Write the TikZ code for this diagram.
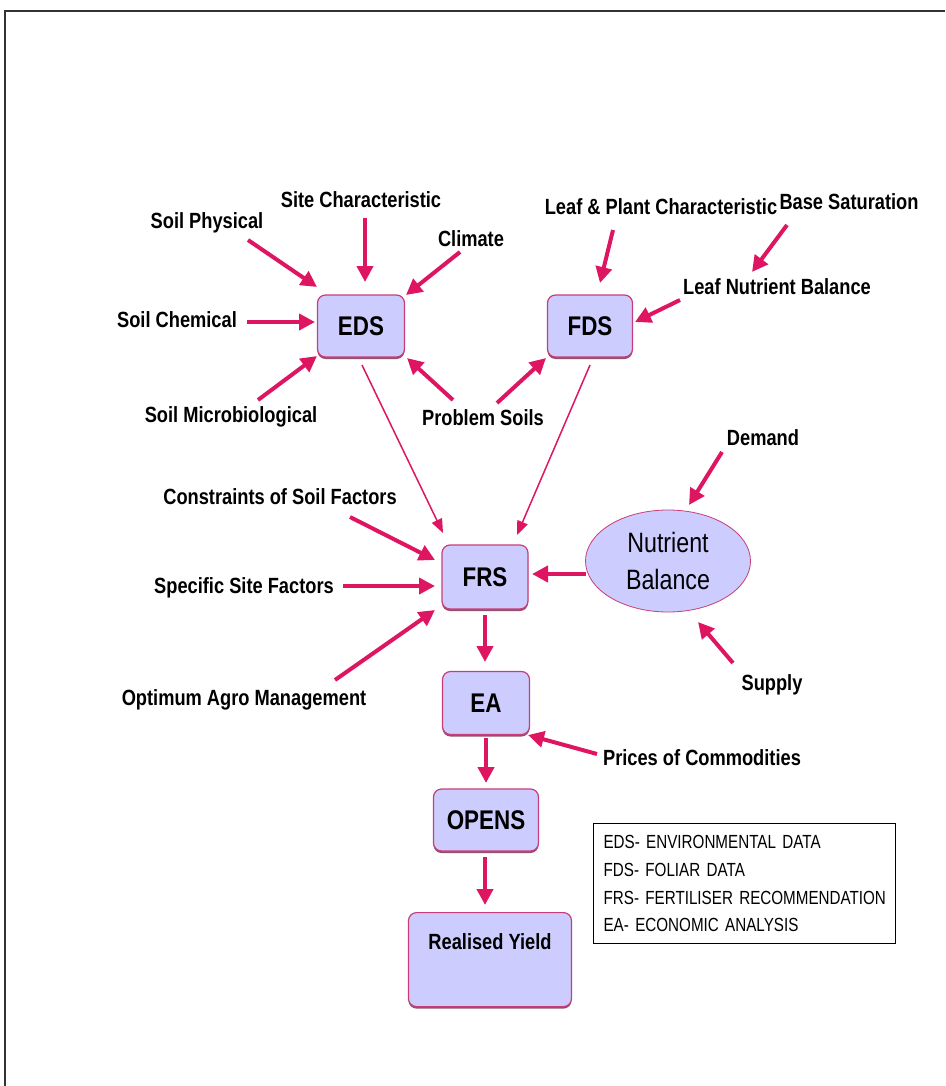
\documentclass[tikz,border=0pt]{standalone}
\usepackage{fontspec}
\usetikzlibrary{arrows.meta,shapes.geometric,calc,shadows}
\newfontfamily\labfont[FakeStretch=0.83]{Liberation Sans}
\newfontfamily\legfont[FakeStretch=0.8]{Liberation Sans}
\definecolor{arrowc}{RGB}{222,22,98}
\definecolor{boxline}{RGB}{200,60,120}
\definecolor{boxfill}{RGB}{204,204,255}
\begin{document}
\begin{tikzpicture}[x=1pt,y=-1pt,
  lab/.style={font=\labfont\bfseries\fontsize{22}{26}\selectfont, inner sep=1pt},
  box/.style={draw=boxline, fill=boxfill, rounded corners=8pt, line width=1.2pt, inner sep=0pt,
    drop shadow={shadow xshift=0pt, shadow yshift=-2pt, fill=boxline!60!black, opacity=0.8},
    font=\labfont\bfseries\fontsize{27}{30}\selectfont},
  arr/.style={draw=arrowc, line width=4pt, -{Triangle[length=16pt,width=16pt]}},
  thinarr/.style={draw=arrowc, line width=1.5pt, -{Triangle[length=14pt,width=11pt]}}]
\useasboundingbox (0,0) rectangle (945,1086);
\draw[line width=1.5pt, black!80] (5,1086) -- (5,11) -- (945,11);

% boxes
\node[box, minimum width=87pt, minimum height=62pt] (eds) at (361,326) {EDS};
\node[box, minimum width=85pt, minimum height=62pt] (fds) at (590,326) {FDS};
\node[box, minimum width=86pt, minimum height=64pt] (frs) at (485,577) {FRS};
\node[box, minimum width=87pt, minimum height=63pt] (ea) at (486,703) {EA};
\node[box, minimum width=105pt, minimum height=62pt] (opens) at (486,820) {OPENS};
\node[box, anchor=north, minimum width=163pt, text height=37pt, text depth=57pt,
  font=\labfont\bfseries\fontsize{22}{26}\selectfont] (ry) at (490,912) {Realised Yield};
\node[ellipse, draw=boxline, fill=boxfill, line width=0.8pt, minimum width=165pt, minimum height=102pt,
  inner sep=0pt, align=center, font=\labfont\fontsize{28}{37}\selectfont] (nb) at (668,561) {Nutrient\\Balance};

% legend
\node[draw=black, line width=1.2pt, anchor=north west, text width=292pt, inner xsep=5pt,
  minimum height=120pt, align=left, font=\legfont\fontsize{19}{27.7}\selectfont] (leg) at (593,823)
  {\hspace*{5pt}EDS- ENVIRONMENTAL DATA\\\hspace*{5pt}FDS- FOLIAR DATA\\\hspace*{5pt}FRS- FERTILISER RECOMMENDATION\\\hspace*{5pt}EA- ECONOMIC ANALYSIS};

% labels
\node[lab] (sphys) at (207,223) {Soil Physical};
\node[lab] (site) at (361,200) {Site Characteristic};
\node[lab] (clim) at (471,239) {Climate};
\node[lab] (schem) at (177,320) {Soil Chemical};
\node[lab] (smicro) at (231,417) {Soil Microbiological};
\node[lab] (prob) at (483,418) {Problem Soils};
\node[lab] (leafp) at (661,207) {Leaf \& Plant Characteristic};
\node[lab] (base) at (849,202) {Base Saturation};
\node[lab] (lnb) at (777,287) {Leaf Nutrient Balance};
\node[lab] (dem) at (763,438) {Demand};
\node[lab] (cons) at (280,497) {Constraints of Soil Factors};
\node[lab] (spec) at (244,588) {Specific Site Factors};
\node[lab] (opt) at (244,700) {Optimum Agro Management};
\node[lab] (sup) at (772,685) {Supply};
\node[lab] (price) at (702,758) {Prices of Commodities};

% arrows
\draw[arr] ($(sphys)+(41,17)$) -- ($(eds)+(-44,-39)$);
\draw[arr] ($(site)+(4,18)$) -- ($(eds)+(4,-44)$);
\draw[arr] ($(clim)+(-11,13)$) -- ($(eds)+(45,-31)$);
\draw[arr] ($(schem)+(70,2)$) -- ($(eds)+(-46,-4)$);
\draw[arr] ($(smicro)+(27,-17)$) -- ($(eds)+(-44,30)$);
\draw[arr] ($(prob)+(-30,-18)$) -- ($(eds)+(46,32)$);
\draw[arr] ($(prob)+(14,-15)$) -- ($(fds)+(-44,32)$);
\draw[arr] ($(leafp)+(-48,23)$) -- ($(fds)+(10,-43)$);
\draw[arr] ($(base)+(-62,23)$) -- ($(lnb)+(-25,-15)$);
\draw[arr] ($(lnb)+(-97,13)$) -- ($(fds)+(45,-4)$);
\draw[thinarr] ($(eds)+(1,39)$) -- ($(frs)+(-42,-44)$);
\draw[thinarr] ($(fds)+(0,39)$) -- ($(frs)+(32,-42)$);
\draw[arr] ($(cons)+(70,20)$) -- ($(frs)+(-50,-17)$);
\draw[arr] ($(spec)+(99,-2)$) -- ($(frs)+(-50,9)$);
\draw[arr] ($(opt)+(91,-20)$) -- ($(frs)+(-50,33)$);
\draw[arr] ($(nb)+(-82,13)$) -- ($(frs)+(47,-3)$);
\draw[arr] ($(frs)+(0,38)$) -- ($(ea)+(-1,-41)$);
\draw[arr] ($(ea)+(0,35)$) -- ($(opens)+(0,-37)$);
\draw[arr] ($(opens)+(-1,37)$) -- ($(ry.north)+(-5,-7)$);
\draw[arr] ($(dem)+(-41,14)$) -- ($(nb)+(21,-56)$);
\draw[arr] ($(sup)+(-39,-22)$) -- ($(nb)+(30,61)$);
\draw[arr] ($(price)+(-105,-4)$) -- ($(ea)+(42,32)$);
\end{tikzpicture}
\end{document}
